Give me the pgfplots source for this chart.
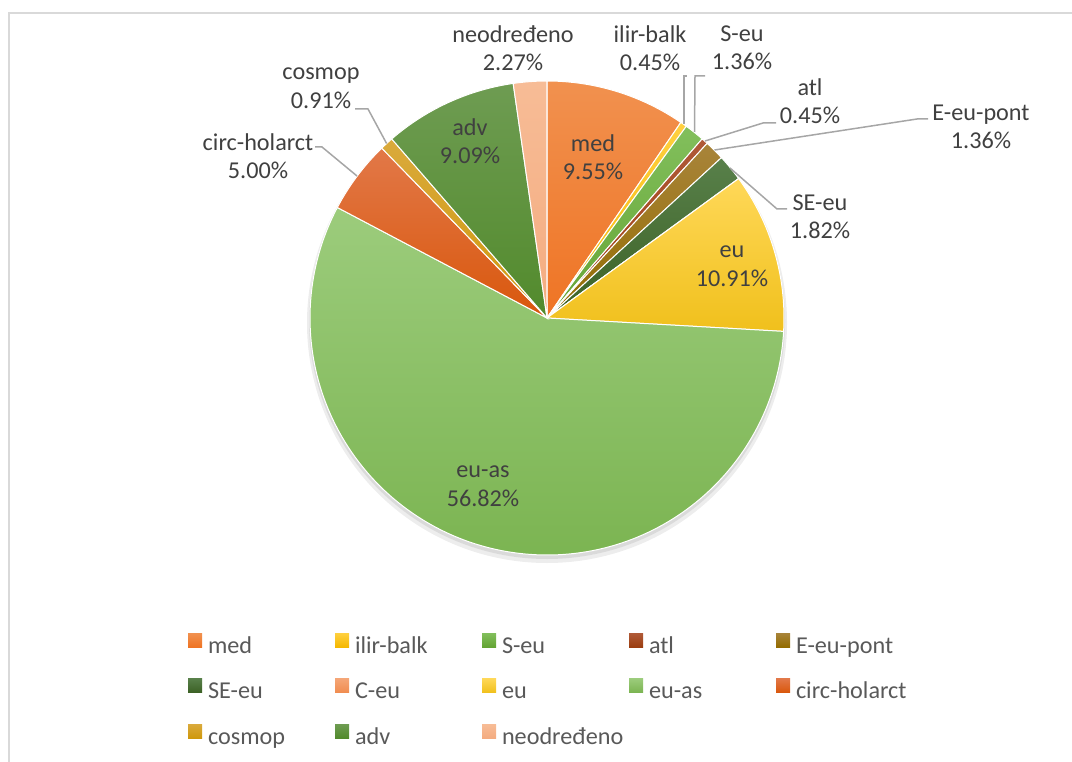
\documentclass[border=0pt]{standalone}
\usepackage{pgfplots}
\usepackage{pgfplotstable}
\pgfplotsset{compat=1.18}
\usepackage{fontspec}
\setmainfont{Carlito}

% slice colours, top and bottom of the gradient
\definecolor{t0}{HTML}{F1914F}\definecolor{b0}{HTML}{EF7424}   % med
\definecolor{t1}{HTML}{FFD040}\definecolor{b1}{HTML}{F5B800}   % ilir-balk
\definecolor{t2}{HTML}{82BF5C}\definecolor{b2}{HTML}{64A434}   % S-eu
\definecolor{t3}{HTML}{B05A38}\definecolor{b3}{HTML}{9C3E10}   % atl
\definecolor{t4}{HTML}{A8843A}\definecolor{b4}{HTML}{946C00}   % E-eu-pont
\definecolor{t5}{HTML}{58804A}\definecolor{b5}{HTML}{3C6125}   % SE-eu
\definecolor{t6}{HTML}{F5A677}\definecolor{b6}{HTML}{F08C50}   % C-eu
\definecolor{t7}{HTML}{FFD858}\definecolor{b7}{HTML}{F0C01C}   % eu
\definecolor{t8}{HTML}{9CCC7C}\definecolor{b8}{HTML}{7BB451}   % eu-as
\definecolor{t9}{HTML}{E27848}\definecolor{b9}{HTML}{D9570C}   % circ-holarct
\definecolor{t10}{HTML}{DAAA3C}\definecolor{b10}{HTML}{CF980C} % cosmop
\definecolor{t11}{HTML}{6E9C52}\definecolor{b11}{HTML}{528A2C} % adv
\definecolor{t12}{HTML}{F7BC96}\definecolor{b12}{HTML}{F4AC80} % neodredeno
\definecolor{lbl}{HTML}{404040}
\definecolor{leg}{HTML}{595959}
\definecolor{lead}{HTML}{A6A6A6}
\definecolor{frame}{HTML}{D9D9D9}

\pgfplotstableread{
idx value
0  9.55
1  0.45
2  1.36
3  0.45
4  1.36
5  1.82
6  0
7  10.91
8  56.82
9  5.00
10 0.91
11 9.09
12 2.27
}\piedata
\pgfplotstablecreatecol[expr accum={\pgfmathaccuma + \thisrow{value}}{0}]{cum}{\piedata}

% one slice, drawn as the mark of a point at the centre
\pgfdeclareplotmark{wedge}{%
  \pgfmathtruncatemacro\k{\idx}%
  \path[top color=t\k, bottom color=b\k, draw=white, line width=1pt]
    (0pt,0pt) -- (\sa:237pt) arc[start angle=\sa, end angle=\ea, radius=237pt] -- cycle;}

\tikzset{lblnode/.style={align=center, text=lbl, inner sep=0pt,
  font=\fontsize{24.2}{28.5}\selectfont}}

\begin{document}
\begin{tikzpicture}
\begin{axis}[
  x=1pt, y=1pt, xmin=0, xmax=1072, ymin=0, ymax=761,
  hide axis, clip=false, set layers,
  legend columns=5,
  legend cell align=left,
  legend image code/.code={\path[#1] (0pt,0pt) rectangle (14pt,14pt);},
  legend style={at={(axis cs:188,128)}, anchor=north west, draw=none, fill=none,
    inner sep=0pt, outer sep=0pt, row sep=20.5pt,
    font=\fontsize{24.2}{28.5}\selectfont, text=leg,
    nodes={inner sep=0pt, text width=127pt, text height=17pt, text depth=5pt},
    /tikz/every odd column/.append style={column sep=6pt},
    /tikz/every even column/.append style={column sep=0pt}},
]
\begin{pgfonlayer}{axis background}
  \fill[black, opacity=0.07] (axis cs:547,438) circle[radius=240pt];
  \fill[black, opacity=0.08] (axis cs:547,440) circle[radius=238pt];
\end{pgfonlayer}

\addplot[forget plot, scatter, only marks, mark=wedge,
  point meta=\thisrow{value},
  scatter/@pre marker code/.code={}, scatter/@post marker code/.code={},
  visualization depends on={\thisrow{idx} \as \idx},
  visualization depends on={90-3.6*(\thisrow{cum}-\thisrow{value}) \as \sa},
  visualization depends on={90-3.6*\thisrow{cum} \as \ea},
] table[x expr=547, y expr=443] {\piedata};

\addlegendimage{top color=t0, bottom color=b0, draw=none}
\addlegendimage{top color=t1, bottom color=b1, draw=none}
\addlegendimage{top color=t2, bottom color=b2, draw=none}
\addlegendimage{top color=t3, bottom color=b3, draw=none}
\addlegendimage{top color=t4, bottom color=b4, draw=none}
\addlegendimage{top color=t5, bottom color=b5, draw=none}
\addlegendimage{top color=t6, bottom color=b6, draw=none}
\addlegendimage{top color=t7, bottom color=b7, draw=none}
\addlegendimage{top color=t8, bottom color=b8, draw=none}
\addlegendimage{top color=t9, bottom color=b9, draw=none}
\addlegendimage{top color=t10, bottom color=b10, draw=none}
\addlegendimage{top color=t11, bottom color=b11, draw=none}
\addlegendimage{top color=t12, bottom color=b12, draw=none}
\legend{med, ilir-balk, S-eu, atl, E-eu-pont, SE-eu, C-eu, eu, eu-as,
  circ-holarct, cosmop, adv, neodređeno}

\begin{pgfonlayer}{axis foreground}
% data labels
\node[lblnode] at (axis cs:593,604) {med\\9.55\%};
\node[lblnode] at (axis cs:650,713) {ilir-balk\\0.45\%};
\node[lblnode] at (axis cs:742,713) {S-eu\\1.36\%};
\node[lblnode] at (axis cs:810,660) {atl\\0.45\%};
\node[lblnode] at (axis cs:981,634) {E-eu-pont\\1.36\%};
\node[lblnode] at (axis cs:820,544) {SE-eu\\1.82\%};
\node[lblnode] at (axis cs:732,495) {eu\\10.91\%};
\node[lblnode] at (axis cs:483,275) {eu-as\\56.82\%};
\node[lblnode] at (axis cs:258,605) {circ-holarct\\5.00\%};
\node[lblnode] at (axis cs:321,673) {cosmop\\0.91\%};
\node[lblnode] at (axis cs:470,620) {adv\\9.09\%};
\node[lblnode] at (axis cs:513,713) {neodređeno\\2.27\%};

% leader lines
\begin{scope}[lead, line width=1.5pt]
  \draw (axis cs:684,637) -- (axis cs:684,685) -- (axis cs:687,685);
  \draw (axis cs:694.5,629) -- (axis cs:695,685) -- (axis cs:705,685);
  \draw (axis cs:705,620) -- (axis cs:763,638) -- (axis cs:776,638);
  \draw (axis cs:714.5,611) -- (axis cs:917,642) -- (axis cs:928,642);
  \draw (axis cs:730,593) -- (axis cs:777,552) -- (axis cs:787,552);
  \draw (axis cs:386.6,617.5) -- (axis cs:368,652) -- (axis cs:355,652);
  \draw (axis cs:357,585) -- (axis cs:322,614) -- (axis cs:315,614);
\end{scope}
\end{pgfonlayer}

% chart area border (only top and left edges are in view)
\draw[frame, line width=2pt] (axis cs:9,-10) -- (axis cs:9,748) -- (axis cs:1090,748);
\end{axis}
\pgfresetboundingbox
\path (current axis.south west) rectangle (current axis.north east);
\end{tikzpicture}
\end{document}
